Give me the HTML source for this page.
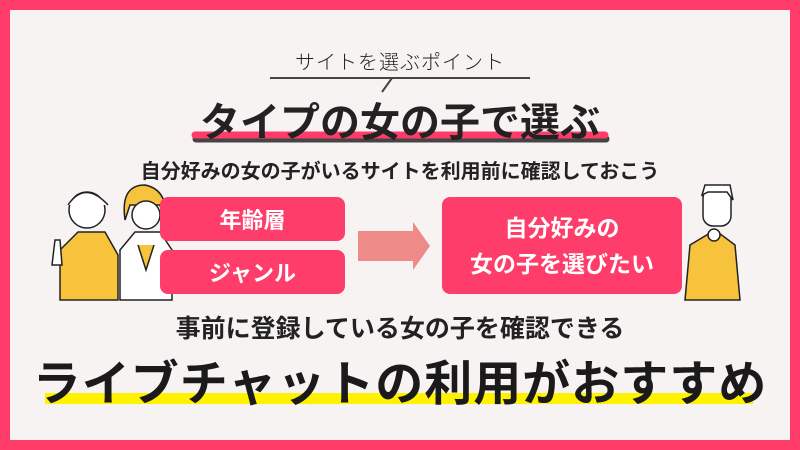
<!DOCTYPE html>
<html><head><meta charset="utf-8"><style>
body{margin:0;width:800px;height:450px;overflow:hidden;background:#ff3b6a;font-family:"Liberation Sans","Noto Sans CJK JP",sans-serif;}
.in{position:absolute;left:10px;top:10px;width:780px;height:430px;background:#f8f3f3;}
.t{position:absolute;left:0;width:800px;text-align:center;color:#222;white-space:nowrap;}
.box{position:absolute;background:#ff3d6a;border-radius:8px;color:#fff;font-weight:bold;display:flex;align-items:center;justify-content:center;text-align:center;}
</style></head><body>
<div class="in"></div>
<div class="t" style="top:46px;font-size:20px;letter-spacing:1px;font-weight:300;">サイトを選ぶポイント</div>
<svg style="position:absolute;left:0;top:0" width="800" height="450">
<polyline points="270,78 392,78 382,92 392,78 530,78" fill="none" stroke="#444" stroke-width="2"/>
<line x1="196" y1="139" x2="606" y2="139" stroke="#444" stroke-width="7" stroke-linecap="round"/>
<line x1="195" y1="135" x2="605" y2="135" stroke="#ff3b6a" stroke-width="7" stroke-linecap="round"/>
<rect x="45" y="393" width="708" height="11" fill="#fff200"/>
<polygon points="358,231 413,231 413,222 430,246 413,270 413,261 358,261" fill="#ee8a88"/>
<g stroke="#222" stroke-width="1.5">
<path d="M60,250 L78,232 L105,232 L118,255 L118,300 L60,300Z" fill="#f7c23c"/>
<circle cx="87" cy="210" r="18" fill="#fff"/>
<path d="M68,205 Q85,180 108,205" fill="#fff"/>
<path d="M52,265 L55,240 L60,240 L62,265Z" fill="#fff"/>
<path d="M120,250 L135,232 L160,232 L172,250 L172,300 L120,300Z" fill="#fff"/>
<path d="M125,220 Q120,185 145,185 Q170,190 165,225 L160,205 L130,205Z" fill="#f7c23c"/>
<circle cx="146" cy="215" r="14" fill="#fff"/>
<path d="M138,245 L146,270 L154,245" fill="#f7c23c"/>
<path d="M690,245 L715,230 L735,245 L740,300 L685,300Z" fill="#f7c23c"/>
<rect x="703" y="188" width="28" height="38" rx="10" fill="#fff"/>
<path d="M702,195 L705,185 L730,185 L733,200 L727,192 L708,192Z" fill="#fff"/>
<circle cx="714" cy="235" r="6" fill="#fff"/>
</g>
</svg>
<div class="t" style="top:90px;font-size:40px;font-weight:bold;">タイプの女の子で選ぶ</div>
<div class="t" style="top:155px;font-size:20px;font-weight:bold;">自分好みの女の子がいるサイトを利用前に確認しておこう</div>
<div class="box" style="left:160px;top:197px;width:185px;height:44px;font-size:22px;">年齢層</div>
<div class="box" style="left:160px;top:250px;width:185px;height:44px;font-size:22px;">ジャンル</div>
<div class="box" style="left:442px;top:197px;width:240px;height:97px;font-size:23px;line-height:36px;">自分好みの<br>女の子を選びたい</div>
<div class="t" style="top:309px;font-size:25px;font-weight:bold;">事前に登録している女の子を確認できる</div>
<div class="t" style="top:344px;font-size:48px;font-weight:bold;color:#1a1a1a;letter-spacing:1px;">ライブチャットの利用がおすすめ</div>
</body></html>
